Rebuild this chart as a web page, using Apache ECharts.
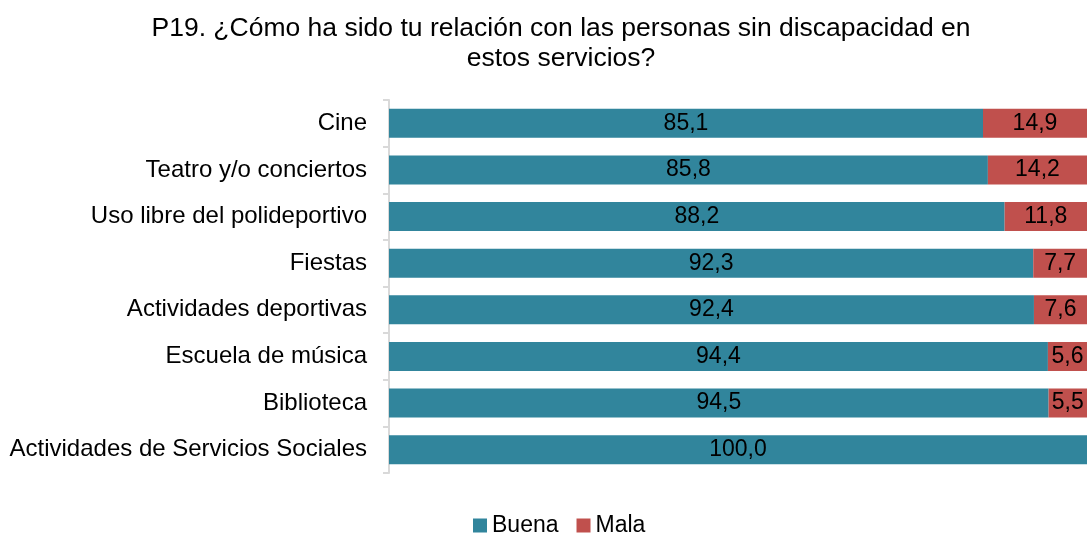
<!DOCTYPE html>
<html>
<head>
<meta charset="utf-8">
<script src="https://cdn.jsdelivr.net/npm/echarts@6/dist/echarts.min.js"></script>
<style>
    html, body { margin: 0; padding: 0; background: #fff; }
    #chart { width: 1087px; height: 535px; }
</style>
</head>
<body>
<div id="chart"></div>
<script>
    const categories = [
        'Cine',
        'Teatro y/o conciertos',
        'Uso libre del polideportivo',
        'Fiestas',
        'Actividades deportivas',
        'Escuela de música',
        'Biblioteca',
        'Actividades de Servicios Sociales'
    ];
    const buena = [85.1, 85.8, 88.2, 92.3, 92.4, 94.4, 94.5, 100.0];
    const mala = [14.9, 14.2, 11.8, 7.7, 7.6, 5.6, 5.5, 0];

    const font = 'Liberation Sans, Arial, sans-serif';

    function fmt (p) {
        if (!p.value) return '';
        return p.value.toFixed(1).replace('.', ',');
    }

    const chart = echarts.init(document.getElementById('chart'));
    chart.setOption({
        animation: false,
        title: {
            text: 'P19. ¿Cómo ha sido tu relación con las personas sin discapacidad en\nestos servicios?',
            left: 556,
            textAlign: 'center',
            top: 9,
            textStyle: {
                fontFamily: font,
                fontWeight: 'normal',
                fontSize: 26.5,
                color: '#000',
                lineHeight: 30
            }
        },
        legend: {
            data: ['Buena', 'Mala'],
            top: 509,
            left: 468,
            itemWidth: 14,
            itemHeight: 14,
            itemGap: 18,
            icon: 'rect',
            textStyle: {
                fontFamily: font,
                fontSize: 23,
                color: '#000'
            }
        },
        grid: {
            left: 389,
            right: -2,
            top: 100,
            bottom: 62
        },
        xAxis: {
            type: 'value',
            min: 0,
            max: 100,
            show: false
        },
        yAxis: {
            type: 'category',
            data: categories,
            inverse: true,
            axisLine: {
                show: true,
                lineStyle: { color: '#D9D9D9', width: 2 }
            },
            axisTick: {
                show: true,
                length: 6,
                lineStyle: { color: '#D9D9D9', width: 2 }
            },
            axisLabel: {
                fontFamily: font,
                fontSize: 24,
                color: '#000',
                margin: 22
            }
        },
        series: [
            {
                name: 'Buena',
                type: 'bar',
                stack: 'total',
                data: buena,
                barWidth: 29,
                itemStyle: { color: '#31859C' },
                label: {
                    show: true,
                    position: 'inside',
                    formatter: fmt,
                    fontFamily: font,
                    fontSize: 23,
                    color: '#000'
                }
            },
            {
                name: 'Mala',
                type: 'bar',
                stack: 'total',
                data: mala,
                barWidth: 29,
                itemStyle: { color: '#C0504D' },
                label: {
                    show: true,
                    position: 'inside',
                    formatter: fmt,
                    fontFamily: font,
                    fontSize: 23,
                    color: '#000'
                }
            }
        ]
    });
</script>
</body>
</html>
